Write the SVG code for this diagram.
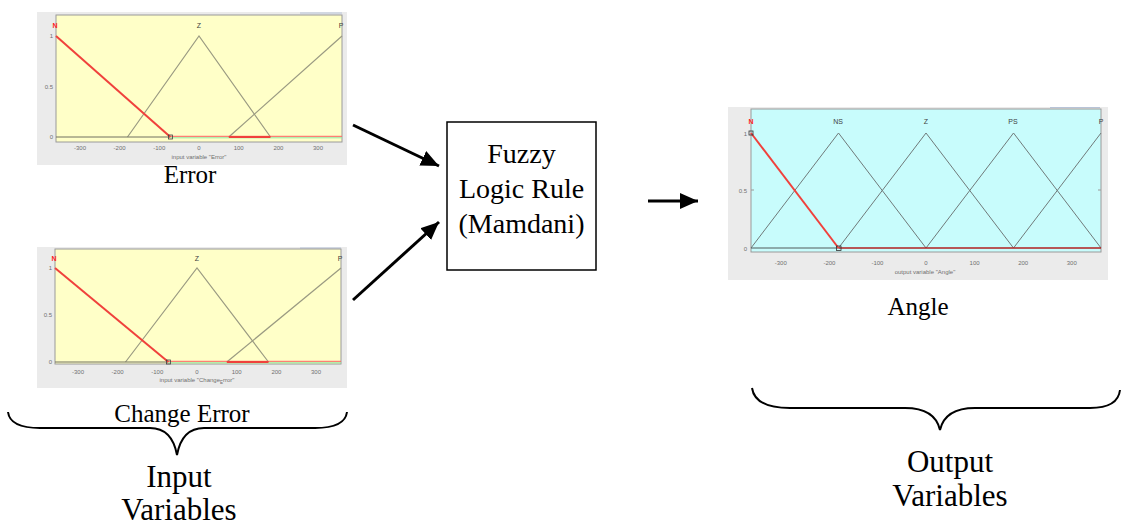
<svg xmlns="http://www.w3.org/2000/svg" width="1122" height="526" viewBox="0 0 1122 526">
<style>
.bg{fill:#ebebeb}
.ax{stroke:#9a9a9a;stroke-width:1}
.mf{fill:none;stroke:#9a9a82;stroke-width:1.2}
.mfc{fill:none;stroke:#707a7a;stroke-width:1}
.sel{fill:none;stroke:#f0413c;stroke-width:2}
.tk{font-family:"Liberation Sans",Arial,sans-serif;font-size:6px;fill:#707070;text-anchor:middle}
.ty{font-family:"Liberation Sans",Arial,sans-serif;font-size:6px;fill:#707070;text-anchor:end}
.ml{font-family:"Liberation Sans",Arial,sans-serif;font-size:7px;fill:#404040;text-anchor:middle}
.mlr{font-family:"Liberation Sans",Arial,sans-serif;font-size:7px;fill:#ff2020;text-anchor:middle;font-weight:bold}
.lbl{font-family:"Liberation Serif","Times New Roman",serif;font-size:25px;fill:#000;text-anchor:middle}
.box{font-family:"Liberation Serif","Times New Roman",serif;font-size:28px;fill:#000;text-anchor:middle}
.big{font-family:"Liberation Serif","Times New Roman",serif;font-size:31px;fill:#000;text-anchor:middle}
.conn{stroke:#000;stroke-width:3;fill:none}
.brace{stroke:#000;stroke-width:2;fill:none}
</style>
<defs>
<marker id="ah" markerUnits="userSpaceOnUse" markerWidth="20" markerHeight="16" refX="18" refY="8" orient="auto">
<path d="M0,0 L18,8 L0,16 Z" fill="#000"/>
</marker>
</defs>

<g id="plot-error">
<rect class="bg" x="37" y="12" width="310" height="153"/>
<line x1="300" y1="13" x2="342" y2="13" stroke="#b8c4d8" stroke-width="1"/>
<rect x="56" y="15" width="286" height="127" fill="#ffffc8" stroke="#9a9a9a" stroke-width="1"/>
<text class="ty" x="53" y="38">1</text>
<text class="ty" x="53" y="89">0.5</text>
<text class="ty" x="53" y="139">0</text>
<g class="tk">
<text x="80" y="150">-300</text><text x="119.6" y="150">-200</text><text x="159.3" y="150">-100</text><text x="199" y="150">0</text><text x="238.7" y="150">100</text><text x="278.4" y="150">200</text><text x="318" y="150">300</text>
</g>
<text class="tk" x="199" y="159">input variable "Error"</text>
<text class="mlr" x="55" y="28">N</text>
<text class="ml" x="199" y="28">Z</text>
<text class="ml" x="341" y="28">P</text>
<polyline class="mf" points="127.5,137 199,36 270.5,137"/>
<polyline class="mf" points="228.8,137 342,36"/>
<line x1="56" y1="137" x2="170.4" y2="137" stroke="#707060" stroke-width="1"/>
<line x1="170.4" y1="136.3" x2="342" y2="136.3" stroke="#ff6060" stroke-width="1"/>
<line x1="170.4" y1="137.8" x2="342" y2="137.8" stroke="#90e8a0" stroke-width="1"/>
<line x1="228.8" y1="137" x2="270.5" y2="137" stroke="#f0413c" stroke-width="2"/>
<polyline class="sel" points="56,36 170.4,137"/>
<rect x="168.4" y="135" width="4" height="4" fill="none" stroke="#404040" stroke-width="0.8"/>
</g>

<g id="plot-change-error">
<rect class="bg" x="37" y="247" width="310" height="141"/>
<line x1="300" y1="248" x2="341" y2="248" stroke="#b8c4d8" stroke-width="1"/>
<rect x="55" y="249" width="286" height="115" fill="#ffffc8" stroke="#9a9a9a" stroke-width="1"/>
<text class="ty" x="52" y="270">1</text>
<text class="ty" x="52" y="317">0.5</text>
<text class="ty" x="52" y="364">0</text>
<g class="tk">
<text x="78" y="374">-300</text><text x="117.6" y="374">-200</text><text x="157.3" y="374">-100</text><text x="197" y="374">0</text><text x="236.7" y="374">100</text><text x="276.4" y="374">200</text><text x="316" y="374">300</text>
</g>
<text class="tk" x="197" y="382">input variable "Change<tspan font-size="4.5px" dy="1.5">E</tspan><tspan dy="-1.5">rror"</tspan></text>
<text class="mlr" x="54" y="261">N</text>
<text class="ml" x="197" y="261">Z</text>
<text class="ml" x="340" y="261">P</text>
<polyline class="mf" points="125.5,362 197,268 268.5,362"/>
<polyline class="mf" points="226.8,362 341,268"/>
<line x1="55" y1="362" x2="168.4" y2="362" stroke="#707060" stroke-width="1"/>
<line x1="168.4" y1="361.3" x2="341" y2="361.3" stroke="#ff6060" stroke-width="1"/>
<line x1="168.4" y1="362.8" x2="341" y2="362.8" stroke="#90e8a0" stroke-width="1"/>
<line x1="226.8" y1="362" x2="268.5" y2="362" stroke="#f0413c" stroke-width="2"/>
<polyline class="sel" points="55,268 168.4,362"/>
<rect x="166.4" y="360" width="4" height="4" fill="none" stroke="#404040" stroke-width="0.8"/>
</g>

<g id="plot-angle">
<rect class="bg" x="728" y="107" width="380" height="173"/>
<line x1="1050" y1="107.5" x2="1100" y2="107.5" stroke="#b8c4d8" stroke-width="1"/>
<rect x="751" y="109" width="350" height="143" fill="#c8fcfc" stroke="#9a9a9a" stroke-width="1"/>
<text class="ty" x="747" y="136">1</text>
<text class="ty" x="747" y="193">0.5</text>
<text class="ty" x="747" y="251">0</text>
<line class="ax" x1="1098" y1="190" x2="1101" y2="190"/>
<line class="ax" x1="751" y1="190" x2="754" y2="190"/>
<g class="tk">
<text x="780.8" y="265">-300</text><text x="829.4" y="265">-200</text><text x="877.4" y="265">-100</text><text x="926" y="265">0</text><text x="974.6" y="265">100</text><text x="1023.2" y="265">200</text><text x="1071.8" y="265">300</text>
</g>
<text class="tk" x="925" y="274">output variable "Angle"</text>
<text class="mlr" x="751" y="124">N</text>
<text class="ml" x="838" y="124">NS</text>
<text class="ml" x="926" y="124">Z</text>
<text class="ml" x="1013" y="124">PS</text>
<text class="ml" x="1101" y="124">P</text>
<polyline class="mfc" points="751,248 838.5,133 926,248"/>
<polyline class="mfc" points="838.5,248 926,133 1013.5,248"/>
<polyline class="mfc" points="926,248 1013.5,133 1101,248"/>
<polyline class="mfc" points="1013.5,248 1101,133"/>
<line x1="751" y1="248" x2="838.5" y2="248" stroke="#505a5a" stroke-width="1.2"/>
<line x1="838.5" y1="248" x2="1101" y2="248" stroke="#b02020" stroke-width="1.5"/>
<polyline class="sel" points="751,133 838.5,248" stroke-width="1.6"/>
<rect x="749" y="131" width="4" height="4" fill="none" stroke="#303030" stroke-width="0.8"/>
<rect x="836.5" y="246" width="4.5" height="4.5" fill="none" stroke="#303030" stroke-width="0.8"/>
</g>

<g id="label-error"><text class="lbl" x="190" y="183">Error</text></g>
<g id="label-change-error"><text class="lbl" x="182" y="422">Change Error</text></g>
<g id="label-angle"><text class="lbl" x="918" y="315">Angle</text></g>

<g id="rule-box">
<rect x="447" y="122" width="149" height="148" fill="#fff" stroke="#000" stroke-width="1.5"/>
<text class="box" x="521.5" y="163">Fuzzy</text>
<text class="box" x="521.5" y="198">Logic Rule</text>
<text class="box" x="521.5" y="233">(Mamdani)</text>
</g>

<g id="input-brace">
<path class="brace" d="M8,412 Q10,428 40,428 L150,428 Q172,428 177,455 Q182,428 204,428 L315,428 Q345,428 347,412"/>
<text class="big" x="179" y="487">Input</text>
<text class="big" x="179" y="520">Variables</text>
</g>

<g id="output-brace">
<path class="brace" d="M752,388 Q755,408 790,408 L905,408 Q935,408 940,430 Q945,408 975,408 L1090,408 Q1118,408 1120,390"/>
<text class="big" x="950" y="472">Output</text>
<text class="big" x="950" y="506">Variables</text>
</g>

<g id="connectors">
<line class="conn" x1="353" y1="125" x2="439" y2="166" marker-end="url(#ah)"/>
<line class="conn" x1="353" y1="300" x2="439" y2="222" marker-end="url(#ah)"/>
<line class="conn" x1="648" y1="201" x2="698" y2="201" marker-end="url(#ah)"/>
</g>
</svg>
